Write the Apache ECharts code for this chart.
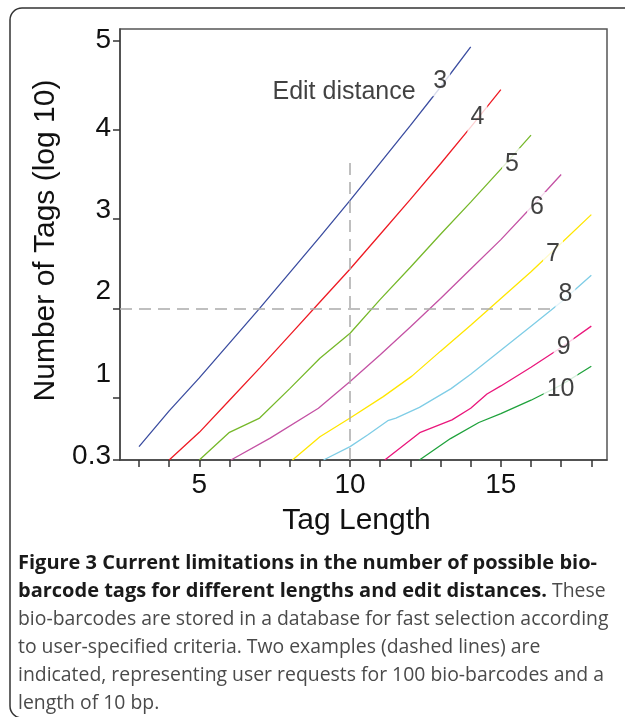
<!DOCTYPE html>
<html>
<head>
<meta charset="utf-8">
<script src="https://cdn.jsdelivr.net/npm/echarts@6/dist/echarts.min.js"></script>
<style>
html,body{margin:0;padding:0;background:#fff;}
#chart{width:625px;height:717px;}
</style>
</head>
<body>
<div id="chart"></div>
<script>
// ---- data (log10 of number of tags vs tag length) ----
const dist3 = [[3,0.45],[4,0.85],[5,1.22],[6,1.61],[7,2.0],[8,2.4],[9,2.8],[10,3.21],[11,3.63],[12,4.05],[13,4.48],[14,4.93]];
const dist4 = [[4,0.3],[5,0.61],[6,0.97],[7,1.33],[8,1.70],[9,2.07],[10,2.44],[11,2.83],[12,3.22],[13,3.62],[14,4.03],[15,4.45]];
const dist5 = [[5,0.3],[6,0.61],[7,0.77],[8,1.1],[9,1.44],[10,1.72],[11,2.1],[12,2.46],[13,2.83],[14,3.19],[15,3.56],[16,3.94]];
const dist6 = [[6.05,0.3],[7.35,0.545],[8.95,0.88],[10,1.18],[11,1.48],[12,1.79],[13,2.11],[14,2.44],[15,2.77],[16,3.13],[17,3.5]];
const dist7 = [[8.09,0.3],[9,0.56],[10,0.77],[11.1,1.01],[12.05,1.24],[13,1.52],[14,1.81],[15,2.11],[16,2.41],[17,2.73],[18,3.05]];
const dist8 = [[9.12,0.3],[10,0.45],[10.58,0.58],[11.25,0.74],[11.52,0.77],[12.3,0.89],[13.35,1.1],[14,1.26],[15,1.53],[16,1.8],[17,2.07],[18,2.37]];
const dist9 = [[11.15,0.3],[12.33,0.61],[13.38,0.75],[14,0.88],[14.54,1.04],[15,1.13],[16,1.34],[17,1.56],[18,1.8]];
const dist10 = [[12.3,0.3],[13.33,0.54],[14.27,0.72],[15,0.82],[16,0.97],[17,1.14],[18,1.35]];

const editDistances = ['3','4','5','6','7','8','9','10'];
const seriesValues = [dist3, dist4, dist5, dist6, dist7, dist8, dist9, dist10];
const seriesColors = ['#3b4da0','#ee1b24','#76b82a','#c452a4','#ffe600','#7fcde6','#ea177c','#1fa23c'];
// label anchor positions (data coords) for each edit-distance label
const labelPositions = [[12.99,4.55],[14.22,4.14],[15.37,3.62],[16.20,3.13],[16.73,2.61],[17.14,2.16],[17.08,1.56],[16.98,1.10]];
const titlePosition = [9.80,4.42];

const xTicks = [3,4,5,6,7,8,9,10,11,12,13,14,15,16,17,18];
const xTickLabels = [5,10,15];
const yTicks = [0.3,1,2,3,4,5];

// reference (dashed) lines: 100 bio-barcodes (log10 = 2) and length 10
const refLog = 2;
const refLogEnd = 16.75;
const refLength = 10;
const refLengthTop = 3.65;

const X_MIN = 2.37, X_MAX = 18.52, Y_MIN = 0.3, Y_MAX = 5.13;

const yShift = {'0.3':8,'1':46,'2':34,'3':18,'4':4,'5':0};
const yRich = {};
Object.keys(yShift).forEach((k,i)=>{
  yRich['s'+i] = {fontSize:28, fontFamily:'Liberation Sans', color:'#111', padding:[0,0,yShift[k],0]};
});

const chart = echarts.init(document.getElementById('chart'), null, {renderer:'canvas'});

const series = seriesValues.map((d,i)=>({
  type:'line',
  name:editDistances[i],
  data:d,
  showSymbol:false,
  symbol:'none',
  lineStyle:{color:seriesColors[i], width:1.3},
  z:2,
  animation:false
}));

series[0].markLine = {
  silent:true,
  symbol:'none',
  label:{show:false},
  lineStyle:{color:'#aaaaaa', width:1.5, type:[12,7]},
  data:[
    [{coord:[X_MIN, refLog]},{coord:[refLogEnd, refLog]}],
    [{coord:[refLength, Y_MIN]},{coord:[refLength, refLengthTop]}]
  ],
  animation:false
};

series.push({
  type:'scatter',
  symbolSize:0,
  z:10,
  silent:true,
  data:labelPositions.map((p,i)=>({value:p, name:editDistances[i]})),
  label:{
    show:true, position:'inside', formatter:'{b}',
    fontSize:25, fontFamily:'Liberation Sans', color:'#111',
    backgroundColor:'#fff', padding:[3,3,3,3]
  },
  animation:false
});
series.push({
  type:'scatter',
  symbolSize:0,
  z:10,
  silent:true,
  data:[{value:titlePosition, name:'Edit distance'}],
  label:{
    show:true, position:'inside', formatter:'{b}',
    fontSize:25, fontFamily:'Liberation Sans', color:'#111'
  },
  animation:false
});

const option = {
  animation:false,
  backgroundColor:'#fff',
  grid:{left:120, right:18, top:29, bottom:257, show:true, borderColor:'#555', borderWidth:1.5, backgroundColor:'transparent'},
  xAxis:{
    type:'value', min:X_MIN, max:X_MAX,
    name:'Tag Length', nameLocation:'middle', nameGap:46,
    nameTextStyle:{fontSize:30, fontFamily:'Liberation Sans', color:'#111', padding:[0,14,0,0]},
    axisLine:{show:true, lineStyle:{color:'#444', width:1.5}},
    axisTick:{show:true, length:7, customValues:xTicks, lineStyle:{color:'#333', width:1.5}},
    axisLabel:{show:true, customValues:xTickLabels, margin:11, fontSize:28, fontFamily:'Liberation Sans', color:'#111'},
    splitLine:{show:false}
  },
  yAxis:{
    type:'value', min:Y_MIN, max:Y_MAX,
    name:'Number of Tags (log 10)', nameLocation:'middle', nameGap:52,
    nameTextStyle:{fontSize:30, fontFamily:'Liberation Sans', color:'#111', padding:[0,0,0,8]},
    axisLine:{show:true, lineStyle:{color:'#444', width:1.5}},
    axisTick:{show:true, length:7, customValues:yTicks, lineStyle:{color:'#333', width:1.5}},
    axisLabel:{
      show:true, customValues:yTicks, margin:9,
      fontSize:28, fontFamily:'Liberation Sans', color:'#111',
      formatter:function(v){
        const key = String(Math.round(v*10)/10);
        const idx = Object.keys(yShift).indexOf(key);
        return '{s'+idx+'|'+key+'}';
      },
      rich:yRich
    },
    splitLine:{show:false}
  },
  series:series,
  graphic:[
    {type:'rect', shape:{x:10, y:8, width:700, height:710, r:12}, style:{fill:'none', stroke:'#333', lineWidth:1.5}, silent:true},
    {type:'text', left:18, top:553, style:{text:'Figure 3 Current limitations in the number of possible bio-', font:'bold 20px "Open Sans"', fill:'#1a1a1a'}},
    {type:'text', left:18, top:581, style:{
      text:'{b|barcode tags for different lengths and edit distances.}{r| These}',
      rich:{b:{font:'bold 20px "Open Sans"', fill:'#1a1a1a'}, r:{font:'19.4px "Open Sans"', fill:'#4a4a4a'}}
    }},
    {type:'text', left:18, top:610, style:{text:'bio-barcodes are stored in a database for fast selection according', font:'19.4px "Open Sans"', fill:'#4a4a4a'}},
    {type:'text', left:18, top:638, style:{text:'to user-specified criteria. Two examples (dashed lines) are', font:'19.4px "Open Sans"', fill:'#4a4a4a'}},
    {type:'text', left:18, top:666, style:{text:'indicated, representing user requests for 100 bio-barcodes and a', font:'19.4px "Open Sans"', fill:'#4a4a4a'}},
    {type:'text', left:18, top:694, style:{text:'length of 10 bp.', font:'19.4px "Open Sans"', fill:'#4a4a4a'}}
  ]
};
chart.setOption(option);
</script>
</body>
</html>
